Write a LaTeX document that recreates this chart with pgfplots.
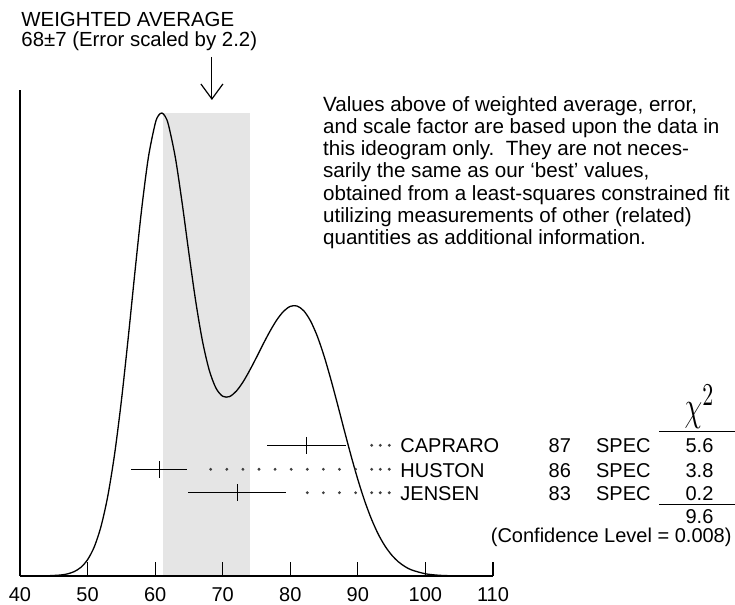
\documentclass[border=0pt]{standalone}
\usepackage{fontspec}
\setmainfont{Liberation Sans}
\usepackage{graphicx}
\usepackage{pgfplots}
\pgfplotsset{compat=1.18}
\usetikzlibrary{arrows.meta}
\definecolor{bandgray}{RGB}{229,229,229}

\begin{document}
\begin{tikzpicture}[font=\fontsize{10.2}{12}\selectfont]
\begin{axis}[
  x=3.3785pt, y=211.8pt,
  xmin=40, xmax=110, ymin=0, ymax=1.1473,
  enlargelimits=false,
  clip=false,
  axis on top,
  axis x line=bottom, axis y line=left,
  axis line style={-, line width=0.6pt},
  xtick={40,50,...,110}, ytick=\empty,
  tick align=inside,
  major tick length=7.15pt,
  tick style={line width=0.6pt, black},
  xticklabel style={font=\fontsize{10}{12}\selectfont, anchor=base, yshift=-12.85pt},
  /pgf/number format/assume math mode=true,
]
% weighted average band
\addplot[draw=none, fill=bandgray] coordinates {(61.1,1.093) (74.1,1.093)} \closedcycle;

% ideogram
\addplot[smooth, black, line width=0.65pt] coordinates {
(40,0.0000) (42,0.0001) (44,0.0005) (46,0.0023) (47,0.0049) (48,0.0102)
(49,0.0203) (50,0.0385) (51,0.0691) (52,0.1177) (53,0.1893) (54,0.2878)
(55,0.4131) (56,0.5598) (57,0.7162) (58,0.8654) (59,0.9882) (60,1.0675)
(60.5,1.0873) (61,1.0930) (61.5,1.0847) (62,1.0632) (63,0.9870) (64,0.8802)
(65,0.7617) (66,0.6491) (67,0.5550) (68,0.4863) (69,0.4436) (70,0.4243)
(71,0.4235) (72,0.4362) (73,0.4579) (74,0.4856) (75,0.5162) (76,0.5479)
(77,0.5779) (78,0.6044) (79,0.6247) (80,0.6365) (81,0.6374) (82,0.6260)
(83,0.6020) (84,0.5660) (85,0.5193) (86,0.4645) (87,0.4049) (88,0.3435)
(89,0.2836) (90,0.2277) (91,0.1777) (92,0.1349) (93,0.0994) (94,0.0712)
(95,0.0496) (96,0.0335) (97,0.0220) (98,0.0140) (100,0.0052) (102,0.0017)
(104,0.0005) (106,0.0001) (108,0.0000) (110,0.0000)};

% measurements
\addplot[only marks, black, mark=|, mark size=4.2pt, mark options={line width=0.6pt},
  error bars/.cd, x dir=both, x explicit, error mark=none,
  error bar style={line width=0.6pt}]
  coordinates {(82.4,0.3085) +- (5.8,0) (60.6,0.2519) +- (4.1,0) (72.15,0.1966) +- (7.25,0)};

% dotted leaders
\addplot[only marks, mark=*, mark size=0.5pt, black!75] coordinates {
(92.05,0.3085) (93.32,0.3085) (94.65,0.3085)
(68.22,0.2519) (70.61,0.2519) (72.99,0.2519) (75.37,0.2519) (77.75,0.2519)
(80.14,0.2519) (82.52,0.2519) (84.90,0.2519) (87.28,0.2519) (89.67,0.2519)
(92.05,0.2519) (93.32,0.2519) (94.65,0.2519)
(82.52,0.1966) (84.90,0.1966) (87.28,0.1966) (89.67,0.1966)
(92.05,0.1966) (93.32,0.1966) (94.65,0.1966)};

% arrow to the weighted average
\draw[line width=0.6pt, -{Straight Barb[length=7.5pt, width=11pt]}]
  (axis cs:68.4,1.2252) -- (axis cs:68.4,1.1237);

% header
\node[anchor=base west, inner sep=0] at (axis cs:40.15,1.2967) {WEIGHTED AVERAGE};
\node[anchor=base west, inner sep=0] at (axis cs:40.15,1.2495) {68±7 (Error scaled by 2.2)};

% note
\begin{scope}[every node/.style={anchor=base west, inner sep=0, font=\fontsize{10.3}{12}\selectfont}]
\node at (axis cs:84.80,1.0961) {Values above of weighted average, error,};
\node at (axis cs:84.80,1.0439) {and scale factor are based upon the data in};
\node at (axis cs:84.80,0.9917) {this ideogram only.\ \ They are not neces-};
\node at (axis cs:84.80,0.9396) {sarily the same as our `best' values,};
\node at (axis cs:84.80,0.8874) {obtained from a least-squares constrained fit};
\node at (axis cs:84.80,0.8352) {utilizing measurements of other (related)};
\node at (axis cs:84.80,0.7830) {quantities as additional information.};
\end{scope}

% table
\begin{scope}[every node/.style={anchor=base west, inner sep=0, font=\fontsize{10}{12}\selectfont}]
\node at (axis cs:96.24,0.2904) {CAPRARO};
\node at (axis cs:96.24,0.2337) {HUSTON};
\node at (axis cs:96.24,0.1785) {JENSEN};
\node at (axis cs:118.19,0.2904) {87};
\node at (axis cs:118.19,0.2337) {86};
\node at (axis cs:118.19,0.1785) {83};
\node at (axis cs:125.2,0.2904) {SPEC};
\node at (axis cs:125.2,0.2337) {SPEC};
\node at (axis cs:125.2,0.1785) {SPEC};
\node[anchor=base] at (axis cs:140.56,0.2904) {5.6};
\node[anchor=base] at (axis cs:140.56,0.2337) {3.8};
\node[anchor=base] at (axis cs:140.56,0.1785) {0.2};
\node[anchor=base] at (axis cs:140.56,0.1251) {9.6};
\node[anchor=base east] at (axis cs:145.37,0.0779) {(Confidence Level = 0.008)};
\end{scope}
\node[anchor=base, inner sep=0] at (axis cs:140.56,0.3659)
  {\scalebox{1}[1.45]{\fontsize{15}{15}\selectfont$\chi^{2}$}};
\draw[line width=0.6pt] (axis cs:134.61,0.3406) -- (axis cs:145.82,0.3406);
\draw[line width=0.6pt] (axis cs:134.61,0.1693) -- (axis cs:145.82,0.1693);

\coordinate (bbl) at (axis cs:37.04,-0.06846);
\coordinate (btr) at (axis cs:145.82,1.3598);
\end{axis}
\pgfresetboundingbox
\path[use as bounding box] (bbl) rectangle (btr);
\end{tikzpicture}
\end{document}
